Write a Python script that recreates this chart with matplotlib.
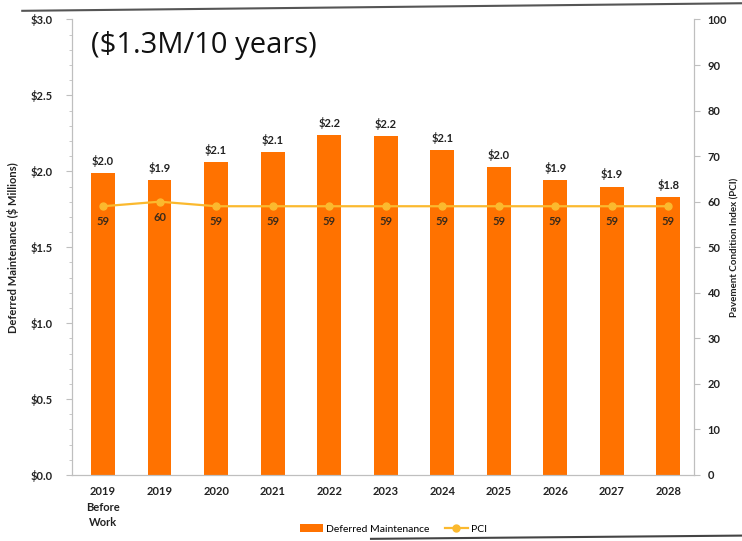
import matplotlib
matplotlib.use("Agg")
import matplotlib.pyplot as plt
import numpy as np
from matplotlib.lines import Line2D
from matplotlib.ticker import MultipleLocator, FuncFormatter

plt.rcParams['font.family'] = ['Lato', 'DejaVu Sans']

years = ['2019\nBefore\nWork', '2019', '2020', '2021', '2022', '2023',
         '2024', '2025', '2026', '2027', '2028']
deferred = [1.99, 1.94, 2.06, 2.13, 2.24, 2.23, 2.14, 2.03, 1.94, 1.90, 1.83]
pci = [59, 60, 59, 59, 59, 59, 59, 59, 59, 59, 59]

BAR = '#FF7200'
LINE = '#FBB92E'
TXT = '#222222'
GRAY = '#BFBFBF'

fig = plt.figure(figsize=(7.42, 5.41), dpi=100)
ax = fig.add_axes([0.097, 0.122, 0.838, 0.842])
ax2 = ax.twinx()

x = np.arange(len(years))
ax.bar(x, deferred, width=0.42, color=BAR, zorder=2, label='Deferred Maintenance')
for xi, v in zip(x, deferred):
    ax.text(xi, v + 0.04, f'${v:.1f}', ha='center', va='bottom',
            fontsize=8, fontweight='bold', color=TXT)

ax2.plot(x, pci, color=LINE, lw=1.6, marker='o', ms=5, zorder=3, label='PCI')
for xi, v in zip(x, pci):
    ax2.text(xi, v - 2.2, f'{v:.0f}', ha='center', va='top',
             fontsize=8, fontweight='bold', color='#3a2a1a')

ax.set_xlim(-0.55, 10.45)
ax.set_ylim(0, 3.0)
ax2.set_ylim(0, 100)

ax.yaxis.set_major_locator(MultipleLocator(0.5))
ax.yaxis.set_minor_locator(MultipleLocator(0.1))
ax.yaxis.set_major_formatter(FuncFormatter(lambda v, p: f'${v:.1f}'))
ax2.yaxis.set_major_locator(MultipleLocator(10))

ax.set_xticks(x)
ax.set_xticklabels(years, fontsize=8, fontweight='bold', color=TXT, linespacing=1.5)
ax.tick_params(axis='x', length=0, pad=8)
ax.tick_params(axis='y', which='major', labelsize=8, colors=GRAY, length=4,
               labelcolor=TXT, pad=10)
ax.tick_params(axis='y', which='minor', colors=GRAY, length=2)
ax2.tick_params(axis='y', labelsize=8, colors=GRAY, length=4, labelcolor=TXT, pad=6)
for lab in ax.get_yticklabels() + ax2.get_yticklabels():
    lab.set_fontweight('bold')

for a in (ax, ax2):
    a.spines['top'].set_visible(False)
    for s in ('left', 'right', 'bottom'):
        a.spines[s].set_color(GRAY)

ax.set_ylabel('Deferred Maintenance ($ Millions)', fontsize=8, fontweight='bold',
              color=TXT, labelpad=8)
ax2.set_ylabel('Pavement Condition Index (PCI)', fontsize=7, fontweight='bold',
               color=TXT, labelpad=2)

ax.text(0.03, 0.975, '($1.3M/10 years)', transform=ax.transAxes, ha='left', va='top',
        fontsize=21, color='#111111', family=['Open Sans', 'DejaVu Sans'])

h1, l1 = ax.get_legend_handles_labels()
h2, l2 = ax2.get_legend_handles_labels()
fig.legend(h1 + h2, l1 + l2, loc='center', bbox_to_anchor=(0.53, 0.022), ncol=2,
           frameon=False, fontsize=7.5, handlelength=2.2, handleheight=0.7,
           columnspacing=1.5, handletextpad=0.3)

fig.add_artist(Line2D([0.03, 1.0], [0.980, 0.994], color='#555555', lw=1.5))
fig.add_artist(Line2D([0.5, 1.0], [0.004, 0.010], color='#444444', lw=1.5))

fig.savefig('out.png', dpi=100)
